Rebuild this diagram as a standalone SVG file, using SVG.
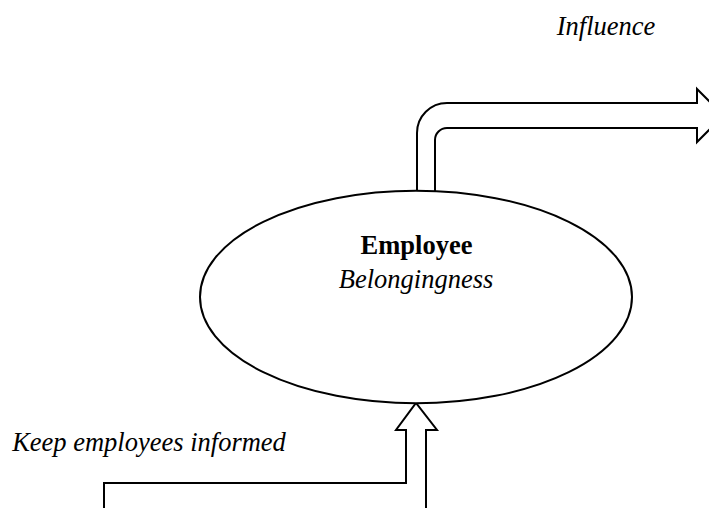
<svg xmlns="http://www.w3.org/2000/svg" width="709" height="508" viewBox="0 0 709 508">
<style>
.ln{fill:#fff;stroke:#000;stroke-width:2;stroke-linejoin:miter}
.t{font-family:"Liberation Serif","Times New Roman",serif;font-size:26.5px;fill:#000}
.i{font-style:italic}
.b{font-weight:bold}
</style>
<rect width="709" height="508" fill="#fff"/>
<g id="connectors">
<path id="influence-arrow" class="ln" d="M417,191 L417,133 A30,30 0 0 1 447,103 L697,103 L697,89 L723.5,115.5 L697,142 L697,128 L447,128 A12,12 0 0 0 435,140 L435,191"/>
<path id="informed-arrow" class="ln" d="M104,512 L104,483 L406,483 L406,430 L396,430 L416,403 L437,430 L426,430 L426,512"/>
</g>
<g id="employee">
<ellipse cx="416" cy="297" rx="216" ry="106.3" fill="#fff" stroke="#000" stroke-width="2"/>
<text class="t b" x="416.5" y="254" text-anchor="middle">Employee</text>
<text class="t i" x="416" y="288" text-anchor="middle">Belongingness</text>
</g>
<g id="labels">
<text class="t i" x="606" y="35" text-anchor="middle">Influence</text>
<text class="t i" x="149" y="451" text-anchor="middle">Keep employees informed</text>
</g>
</svg>
